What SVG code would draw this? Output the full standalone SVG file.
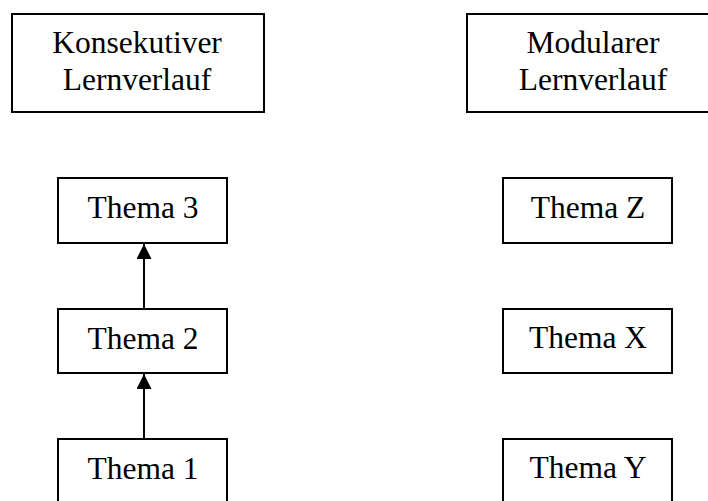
<svg xmlns="http://www.w3.org/2000/svg" width="708" height="501" viewBox="0 0 708 501">
<style>
.b{fill:#fff;stroke:#000;stroke-width:2}
text{font-family:"Liberation Serif","Times New Roman",serif;font-size:31.5px;fill:#000;text-anchor:middle}
.c{stroke:#000;stroke-width:2;fill:none}
</style>
<defs>
<marker id="ah" markerWidth="15" markerHeight="15" refX="15" refY="7.5" orient="auto" markerUnits="userSpaceOnUse" viewBox="0 0 15 15">
<path d="M0,0 L15,7.5 L0,15 Z" fill="#000"/>
</marker>
</defs>
<rect width="708" height="501" fill="#fff"/>
<g id="konsekutiv"><rect class="b" x="12" y="14" width="252" height="98"/><text x="137" y="53">Konsekutiver</text><text x="137" y="90">Lernverlauf</text></g>
<g id="modular"><rect class="b" x="467" y="14" width="252" height="98"/><text x="593" y="53">Modularer</text><text x="593" y="90">Lernverlauf</text></g>
<g id="thema3"><rect class="b" x="58" y="178" width="169" height="65"/><text x="143" y="218">Thema 3</text></g>
<g id="thema2"><rect class="b" x="58" y="309" width="169" height="64"/><text x="143" y="349">Thema 2</text></g>
<g id="thema1"><rect class="b" x="58" y="439" width="169" height="75"/><text x="143" y="479">Thema 1</text></g>
<g id="themaZ"><rect class="b" x="503" y="178" width="169" height="65"/><text x="588" y="218">Thema Z</text></g>
<g id="themaX"><rect class="b" x="503" y="309" width="169" height="64"/><text x="588" y="348">Thema X</text></g>
<g id="themaY"><rect class="b" x="503" y="439" width="169" height="75"/><text x="588" y="478">Thema Y</text></g>
<g id="connectors">
<line class="c" x1="144" y1="309" x2="144" y2="244" marker-end="url(#ah)"/>
<line class="c" x1="144" y1="439" x2="144" y2="374" marker-end="url(#ah)"/>
</g>
</svg>
